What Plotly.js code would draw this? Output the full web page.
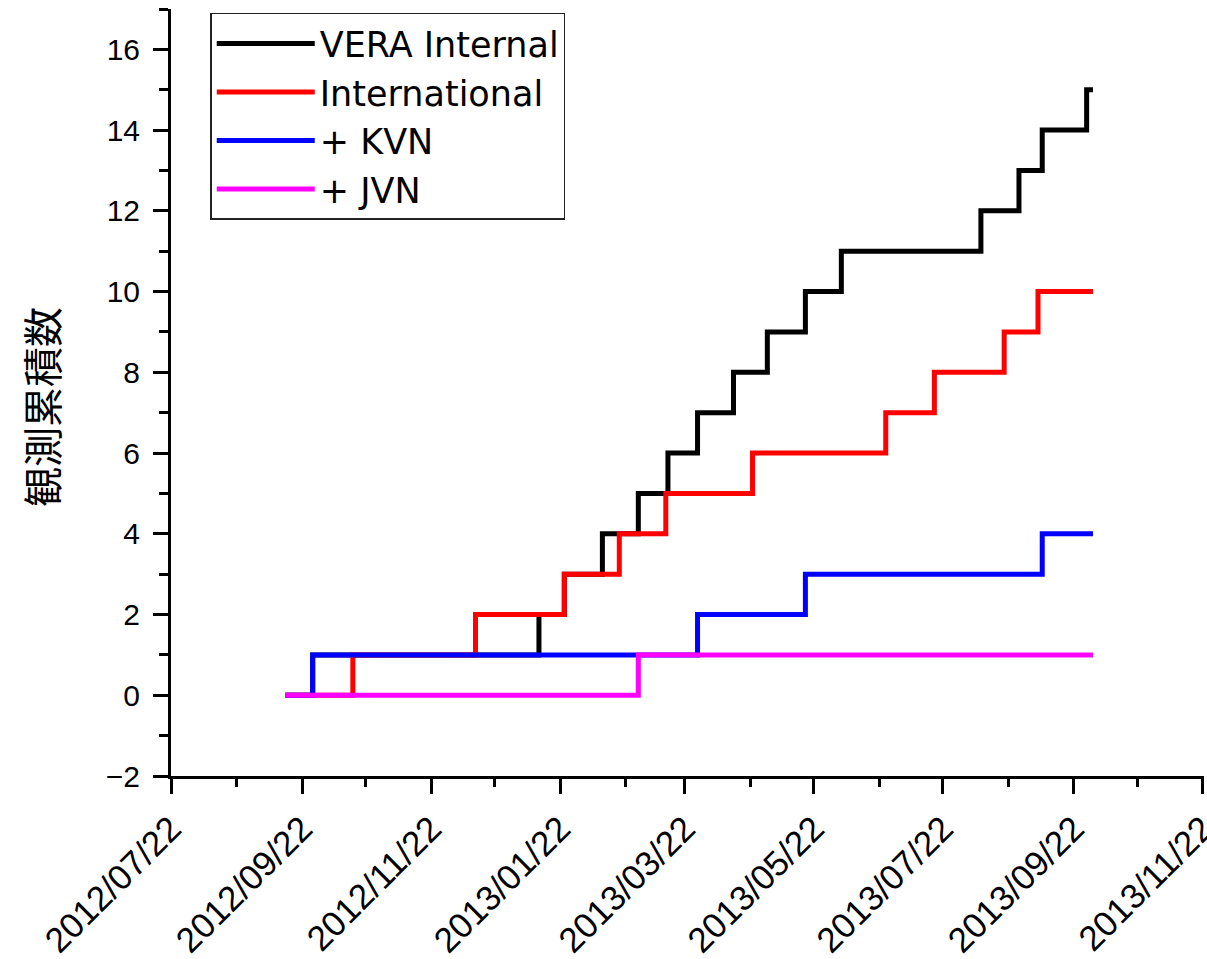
<!DOCTYPE html>
<html>
<head>
<meta charset="utf-8">
<script src="https://cdn.plot.ly/plotly-3.0.1.min.js"></script>
<style>html,body{margin:0;padding:0;background:#fff;}#chart{width:1207px;height:959px;}</style>
</head>
<body>
<div id="chart"></div>
<script>
// Series names
const seriesNames = ['VERA Internal', 'International', '+ KVN', '+ JVN'];
const seriesColors = ['#000000', '#ff0000', '#0000ff', '#ff00ff'];

// Step dates and cumulative counts
const veraDates = ['2012-09-14','2012-09-27','2013-01-12','2013-01-24','2013-02-11','2013-02-28','2013-03-14','2013-03-28','2013-04-14','2013-04-30','2013-05-18','2013-06-04','2013-08-09','2013-08-27','2013-09-07','2013-09-28','2013-10-01'];
const veraCounts = [0,1,2,3,4,5,6,7,8,9,10,11,12,13,14,15,15];

const intlDates = ['2012-09-14','2012-10-16','2012-12-13','2013-01-24','2013-02-19','2013-03-13','2013-04-23','2013-06-25','2013-07-18','2013-08-20','2013-09-05','2013-10-01'];
const intlCounts = [0,1,2,3,4,5,6,7,8,9,10,10];

const kvnDates = ['2012-09-14','2012-09-27','2013-03-28','2013-05-18','2013-09-07','2013-10-01'];
const kvnCounts = [0,1,2,3,4,4];

const jvnDates = ['2012-09-14','2013-02-28','2013-10-01'];
const jvnCounts = [0,1,1];

const yTitle = '観測累積数';
const xRange = ['2012-07-22', '2013-11-22 12:00'];
const yRange = [-2, 17];

const allX = [veraDates, intlDates, kvnDates, jvnDates];
const allY = [veraCounts, intlCounts, kvnCounts, jvnCounts];

const traces = allX.map((xs, i) => ({
  type: 'scatter',
  mode: 'lines',
  x: xs,
  y: allY[i],
  name: seriesNames[i],
  line: {shape: 'hv', color: seriesColors[i], width: 5}
}));

const latin = 'Liberation Sans, Arial, sans-serif';

const layout = {
  width: 1207,
  height: 959,
  margin: {l: 171, r: 3, t: 9, b: 183},
  paper_bgcolor: '#ffffff',
  plot_bgcolor: '#ffffff',
  showlegend: true,
  legend: {
    x: 0.038, y: 0.995, xanchor: 'left', yanchor: 'top',
    bgcolor: '#ffffff',
    bordercolor: '#222222',
    borderwidth: 1.5,
    font: {family: 'DejaVu Sans, sans-serif', size: 35, color: '#000'},
    itemwidth: 98,
    tracegroupgap: 0
  },
  xaxis: {
    type: 'date',
    range: xRange,
    tick0: '2012-07-22',
    dtick: 'M2',
    tickformat: '%Y/%m/%d',
    tickangle: -45,
    ticks: 'outside',
    ticklen: 15,
    tickwidth: 3,
    tickcolor: '#000',
    showline: true,
    linecolor: '#000',
    linewidth: 3,
    showgrid: false,
    zeroline: false,
    ticklabeloverflow: 'allow',
    tickfont: {family: latin, size: 35, color: '#000'},
    minor: {ticks: 'outside', ticklen: 8, tickwidth: 3, tickcolor: '#000', dtick: 'M1', tick0: '2012-07-22', showgrid: false}
  },
  yaxis: {
    range: yRange,
    dtick: 2,
    tick0: 0,
    ticks: 'outside',
    ticklen: 15,
    tickwidth: 3,
    tickcolor: '#000',
    showline: true,
    linecolor: '#000',
    linewidth: 3,
    showgrid: false,
    zeroline: false,
    ticklabelstandoff: 7,
    tickfont: {family: latin, size: 30, color: '#000'},
    minor: {ticks: 'outside', ticklen: 9, tickwidth: 3, tickcolor: '#000', dtick: 1, showgrid: false}
  },
  annotations: [{
    text: yTitle,
    xref: 'paper', yref: 'paper',
    x: -0.126, y: 0.481,
    xanchor: 'center', yanchor: 'middle',
    textangle: -90,
    showarrow: false,
    font: {family: 'Noto Sans CJK JP, sans-serif', size: 40, color: '#000'}
  }]
};

Plotly.newPlot('chart', traces, layout, {staticPlot: true, displayModeBar: false});
</script>
</body>
</html>
